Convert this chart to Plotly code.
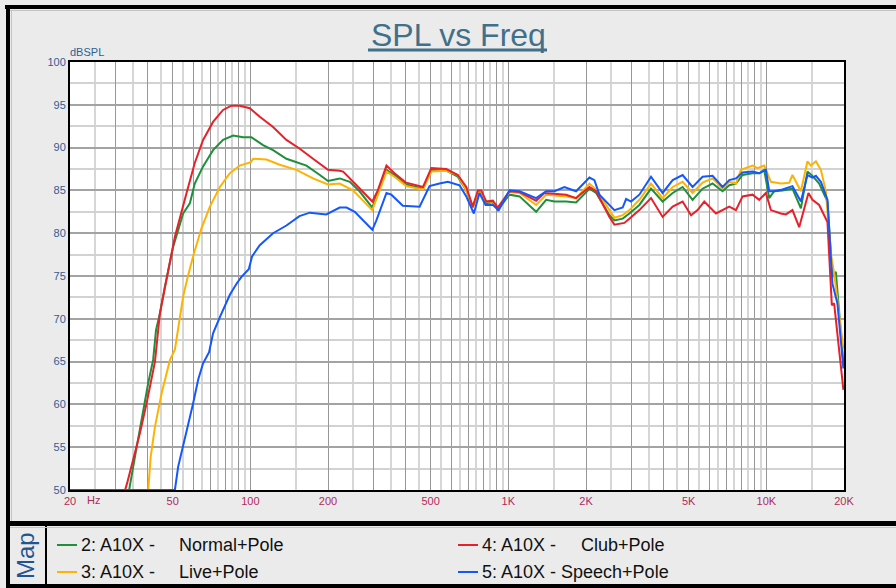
import math
import plotly.graph_objects as go

# ---- measured responses: frequency (Hz) and level (dBSPL) per voicing ----
normal_freq = [20, 33.9, 36.3, 38.4, 40.2, 42.0, 43.1, 44.6, 46.6, 50.2, 54.9, 58.3, 60.9, 65.6,
               71.7, 78.4, 85.8, 93.7, 101, 112, 122.5, 138, 155, 165, 186, 200, 222, 243, 265,
               297, 308, 337, 362, 402, 467, 503, 575, 637, 687, 728, 768, 821, 871, 910, 1010,
               1105, 1282, 1401, 1509, 1675, 1831, 2062, 2189, 2465, 2577, 2775, 2944, 3220, 3573,
               3963, 4335, 4737, 5178, 5660, 6188, 6764, 7184, 7625, 8088, 8843, 9385, 9812,
               10258, 10726, 11550, 12626, 13612, 14434, 15095, 16024, 17254, 18038, 18594, 19894]
normal_spl = [50, 50, 55.1, 59.3, 62.5, 65.2, 68.7, 70.6, 73.7, 78.4, 82.3, 83.5, 85.8, 87.8,
              89.7, 90.9, 91.4, 91.2, 91.2, 90.3, 89.7, 88.7, 88.2, 87.9, 86.8, 86.1, 86.4, 86.0, 84.9,
              83.0, 84.3, 87.4, 86.8, 85.7, 85.2, 87.4, 87.3, 86.6, 85.0, 83.0, 84.9, 83.5, 83.6, 82.7, 84.5,
              84.3, 82.5, 83.9, 83.7, 83.7, 83.6, 85.2, 84.7, 82.1, 81.5, 81.7, 82.3, 83.3, 85.2,
              83.7, 84.7, 85.4, 83.9, 85.2, 85.8, 84.9, 85.6, 85.8, 86.8, 87.0, 87.0, 87.4,
              84.1, 84.9, 85.0, 85.2, 82.9, 87.2, 86.7, 85.8, 83.7, 74.9, 75.5, 64.8]

live_freq = [20, 40.2, 41.1, 42.7, 45.3, 48.8, 51.0, 53.0, 54.9, 57.4, 60.4, 64.7, 69.7, 76.2,
             83.3, 91, 98, 100.5, 102.5, 115.5, 130, 142, 151, 175, 200, 222, 250, 297, 312, 337,
             362, 402, 467, 503, 575, 637, 687, 728, 768, 821, 871, 910, 1010, 1105, 1282, 1401,
             1675, 1831, 2062, 2189, 2465, 2577, 2775, 2944, 3220, 3573, 3963, 4335, 4737, 5178,
             5660, 6188, 6764, 7184, 7625, 7972, 8843, 9244, 9812, 10416, 11385, 12263, 12626,
             13612, 14434, 14880, 15561, 16269, 17010, 17782, 18314, 19894]
live_spl = [50, 50, 53.9, 57.4, 61.3, 65.2, 66.4, 69.5, 72.6, 75.1, 77.6, 80.6, 83.1, 85.4,
            87.0, 87.9, 88.2, 88.3, 88.7, 88.6, 88.0, 87.6, 87.4, 86.4, 85.7, 85.8, 85.0, 82.7, 84.5, 87.2,
            86.6, 85.5, 85.1, 87.2, 87.3, 86.8, 85.0, 83.1, 84.9, 83.7, 83.7, 82.9, 84.8, 84.7, 83.3, 84.5,
            84.3, 84.1, 85.8, 85.1, 82.7, 81.8, 82.1, 82.7, 83.9, 85.8, 84.1, 85.4, 86.0, 84.7,
            85.9, 86.4, 85.2, 86.0, 85.8, 87.4, 87.9, 87.6, 87.9, 86.0, 85.8, 85.9, 86.8,
            84.9, 88.4, 87.9, 88.4, 87.4, 84.9, 77.6, 75.3, 66.5]

club_freq = [20, 32.7, 33.3, 37.3, 39.6, 42.7, 44.6, 47.4, 51.0, 56.6, 60.9, 65.6, 71.7, 78.4,
             84.5, 91, 99.5, 108.8, 122.5, 138, 155, 175, 200, 222, 229, 258, 297, 312, 337, 362,
             402, 467, 503, 575, 637, 687, 728, 762, 785, 821, 871, 910, 1010, 1105, 1282, 1380,
             1675, 1831, 2062, 2189, 2465, 2577, 2817, 2944, 3220, 3573, 3963, 4335, 4737, 5106,
             5414, 5747, 6378, 7184, 7625, 8088, 8843, 9385, 9962, 10416, 11385, 11906, 12626,
             13406, 14564, 15095, 16024, 17254, 17942, 18314, 19894]
club_spl = [50, 50, 50.8, 56.6, 60.1, 65.0, 70.6, 74.5, 79.6, 84.7, 88.2, 90.9, 93.0, 94.4,
            94.9, 94.9, 94.6, 93.6, 92.4, 90.9, 89.9, 88.7, 87.4, 87.3, 87.2, 85.6, 83.7, 85.0, 87.9, 87.0,
            85.9, 85.4, 87.6, 87.5, 86.8, 85.4, 83.1, 85.0, 85.0, 83.7, 83.8, 83.0, 84.9, 84.8, 83.8, 84.7,
            84.5, 84.1, 85.4, 84.9, 81.9, 81.0, 81.2, 81.7, 82.7, 84.1, 81.9, 83.1, 83.7, 82.1,
            82.7, 83.7, 82.3, 83.1, 82.7, 84.3, 84.5, 83.9, 84.7, 82.7, 82.3, 82.2, 82.7,
            80.7, 84.7, 83.9, 83.3, 81.3, 71.6, 71.8, 61.7]

speech_freq = [20, 51.0, 52.5, 54.9, 57.4, 60.0, 62.8, 65.6, 69.2, 71.7, 76.2, 79.6, 83.3, 88.4,
               92.4, 98.6, 101.6, 108.8, 122.5, 138, 155, 170, 197, 222, 236, 254, 273, 297, 308,
               337, 352, 390, 453, 495, 541, 583, 647, 687, 735, 773, 816, 871, 918, 1010, 1105,
               1282, 1401, 1509, 1649, 1831, 2062, 2156, 2254, 2465, 2577, 2775, 2861, 2990, 3220,
               3573, 3963, 4335, 4737, 5178, 5660, 6188, 6764, 7184, 7625, 8088, 8843, 9385, 9962,
               10258, 10726, 11550, 12626, 13612, 14434, 15095, 15561, 16269, 17254, 18038, 18860, 19894]
speech_spl = [50, 50, 52.7, 55.1, 57.8, 60.1, 62.9, 64.8, 66.1, 68.3, 70.2, 71.4, 72.8, 74.1,
              74.9, 75.8, 77.3, 78.6, 80.0, 80.9, 82.0, 82.4, 82.2, 83.0, 83.0, 82.5, 81.5, 80.4, 81.5,
              84.7, 84.5, 83.2, 83.1, 85.5, 85.8, 86.0, 85.6, 84.3, 82.3, 84.7, 83.3, 83.3, 82.7, 85.0, 84.9,
              84.1, 84.9, 84.9, 85.4, 84.9, 86.5, 86.2, 84.5, 83.3, 82.7, 83.0, 84.0, 83.7, 84.5,
              86.6, 84.7, 86.2, 86.8, 85.4, 86.6, 86.7, 85.4, 86.2, 86.4, 87.1, 87.2, 87.0, 87.4,
              84.9, 84.9, 85.1, 85.5, 83.7, 86.8, 86.5, 86.7, 86.0, 83.9, 74.1, 71.8, 64.2]

# ---- axis ticks ----
x_label_freqs = [20, 50, 100, 200, 500, 1000, 2000, 5000, 10000, 20000]
x_label_text = ["20", "50", "100", "200", "500", "1K", "2K", "5K", "10K", "20K"]
y_ticks = [50, 55, 60, 65, 70, 75, 80, 85, 90, 95, 100]

# heavy grid on every 1..9 multiple of each decade, light grid half-way between
x_major = [m * d for d in (10, 100, 1000) for m in range(1, 10)] + [10000, 20000]
x_major = [v for v in x_major if v >= 20]
x_minor = [(m + 0.5) * d for d in (10, 100, 1000) for m in range(1, 10)] + [15000]
x_minor = [v for v in x_minor if v > 20]
x_text = [x_label_text[x_label_freqs.index(v)] if v in x_label_freqs else "" for v in x_major]

series = [
    ("2: A10X -", "Normal+Pole", normal_freq, normal_spl, "#1f8f3a"),
    ("3: A10X -", "Live+Pole", live_freq, live_spl, "#ffb300"),
    ("4: A10X -", "Club+Pole", club_freq, club_spl, "#e8202a"),
    ("5: A10X - Speech+Pole", "", speech_freq, speech_spl, "#1457ff"),
]

fig = go.Figure()
for lead, tail, fr, spl, col in series:
    fig.add_trace(go.Scatter(x=fr, y=spl, mode="lines", name=(lead + " " + tail).strip(),
                             line=dict(color=col, width=2), showlegend=False,
                             hoverinfo="skip", cliponaxis=True))

W, H = 896, 588
L, R, T, B = 70, 844, 62, 490


def px(xp):
    return (xp - L) / (R - L)


def py(yp):
    return (B - yp) / (B - T)


shapes = []


def band(x0, y0, x1, y1, color):
    shapes.append(dict(type="rect", xref="paper", yref="paper", x0=px(x0), x1=px(x1),
                       y0=py(y1), y1=py(y0), fillcolor=color, line=dict(width=0), layer="above"))


def hline(x0, x1, y, color, w):
    shapes.append(dict(type="line", xref="paper", yref="paper", x0=px(x0), x1=px(x1),
                       y0=py(y), y1=py(y), line=dict(color=color, width=w), layer="above"))


def vline(x, y0, y1, color, w):
    shapes.append(dict(type="line", xref="paper", yref="paper", x0=px(x), x1=px(x),
                       y0=py(y0), y1=py(y1), line=dict(color=color, width=w), layer="above"))


# outer frame and legend box
band(5, 5, W, 9, "black")
band(6, 5, 10, H, "black")
band(6, 521, W, 526, "black")
band(6, 584, W, H, "black")
band(45, 526, 47, 584, "black")
hline(10, W, 10.5, "#c4c4c4", 1)
vline(11.5, 10, 521, "#c4c4c4", 1)
hline(10, W, 527.5, "#c4c4c4", 1)
# title underline
hline(368, 547, 50, "#41708a", 3)

annotations = [
    dict(text="SPL vs Freq", x=px(458), y=py(35), xref="paper", yref="paper", showarrow=False,
         font=dict(family="Liberation Sans, Arial", size=32, color="#41708a"), xanchor="center", yanchor="middle"),
    dict(text="dBSPL", x=px(68), y=py(52), xref="paper", yref="paper", showarrow=False,
         font=dict(family="Liberation Sans, Arial", size=11, color="#2e5f96"), xanchor="left", yanchor="middle"),
    dict(text="Hz", x=px(85), y=py(500), xref="paper", yref="paper", showarrow=False,
         font=dict(family="Liberation Sans, Arial", size=11, color="#b02a5c"), xanchor="left", yanchor="middle"),
    dict(text="Map", x=px(25), y=py(556), xref="paper", yref="paper", showarrow=False, textangle=-90,
         font=dict(family="Liberation Sans, Arial", size=24, color="#1f5591"), xanchor="center", yanchor="middle"),
]

# legend entries: colour swatch + label text
legend_pos = [(57, 545), (57, 572), (458, 545), (458, 572)]
tail_x = [177, 177, 579, None]
for (lead, tail, fr, spl, col), (lx, ly), tx in zip(series, legend_pos, tail_x):
    hline(lx, lx + 20, ly, col, 2)
    annotations.append(dict(text=lead, x=px(lx + 22), y=py(ly), xref="paper", yref="paper",
                            showarrow=False, xanchor="left", yanchor="middle",
                            font=dict(family="Liberation Sans, Arial", size=18, color="#111111")))
    if tail:
        annotations.append(dict(text=tail, x=px(tx), y=py(ly), xref="paper", yref="paper",
                                showarrow=False, xanchor="left", yanchor="middle",
                                font=dict(family="Liberation Sans, Arial", size=18, color="#111111")))

fig.update_layout(
    width=W, height=H, autosize=False,
    margin=dict(l=L, r=W - R, t=T, b=H - B, pad=0),
    paper_bgcolor="#ebebeb", plot_bgcolor="white",
    showlegend=False,
    shapes=shapes, annotations=annotations,
    xaxis=dict(type="log", range=[math.log10(20), math.log10(20000)],
               tickmode="array", tickvals=x_major, ticktext=x_text,
               showgrid=True, gridcolor="#979797", gridwidth=1,
               minor=dict(tickmode="array", tickvals=x_minor, showgrid=True,
                          gridcolor="#d6d6d6", gridwidth=1.5, ticks=""),
               showline=True, linecolor="black", linewidth=2, mirror=True,
               ticks="", zeroline=False,
               tickfont=dict(family="Liberation Sans, Arial", size=11, color="#b02a5c")),
    yaxis=dict(range=[50, 100], tickmode="array", tickvals=y_ticks,
               ticktext=[str(v) for v in y_ticks],
               showgrid=True, gridcolor="#a3a3a3", gridwidth=1.5,
               minor=dict(dtick=2.5, tick0=50, showgrid=True, gridcolor="#d2d2d2",
                          gridwidth=1.5, ticks=""),
               showline=True, linecolor="black", linewidth=2, mirror=True,
               ticks="", zeroline=False,
               tickfont=dict(family="Liberation Sans, Arial", size=11, color="#2e5f96")),
)

fig.write_html("out.html", config={"displayModeBar": False})
